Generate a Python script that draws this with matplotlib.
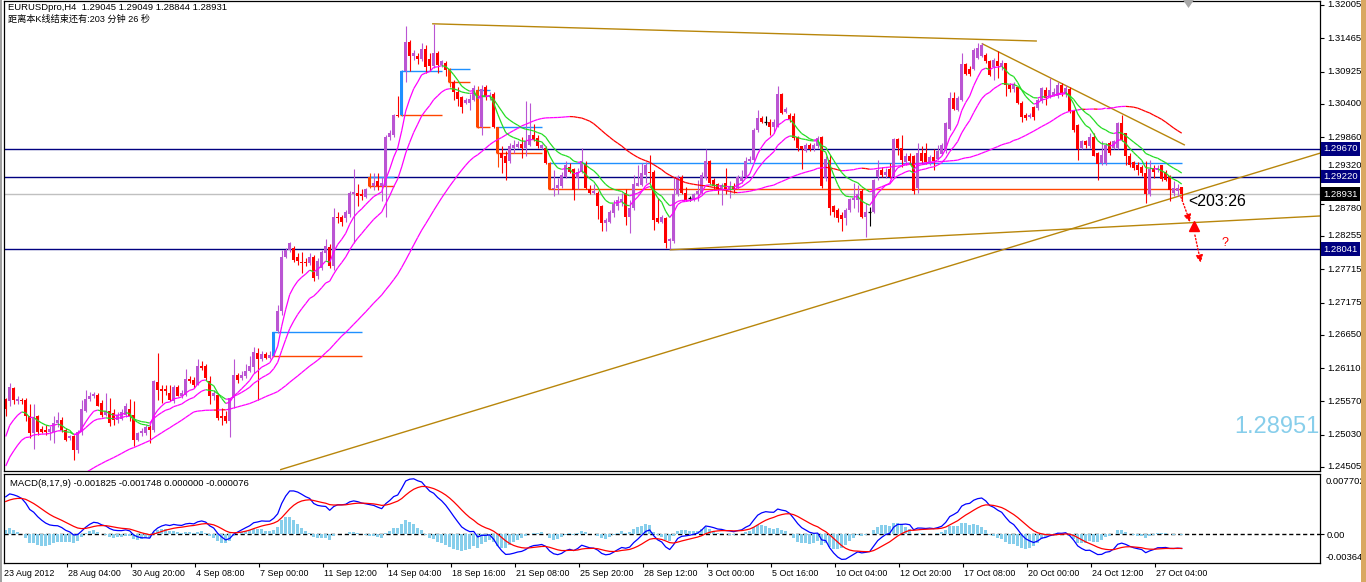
import numpy as np
import matplotlib
matplotlib.use("Agg")
import matplotlib.pyplot as plt
import matplotlib.transforms as mtrans
from matplotlib.collections import LineCollection
from matplotlib.patches import Rectangle, Polygon

plt.rcParams['font.family'] = ['Liberation Sans', 'Noto Sans CJK SC', 'DejaVu Sans']

# ---------------- data (EURUSDpro H4) ----------------
open_ = [
1.2561,1.2557,1.2579,1.2558,1.2560,1.2560,1.2534,1.2505,1.2533,1.2512,
1.2511,1.2508,1.2507,1.2522,1.2526,1.2511,1.2497,1.2500,1.2478,1.2507,
1.2541,1.2561,1.2565,1.2568,1.2554,1.2535,1.2541,1.2538,1.2527,1.2529,
1.2535,1.2544,1.2535,1.2495,1.2505,1.2506,1.2516,1.2510,1.2589,1.2577,
1.2577,1.2570,1.2557,1.2580,1.2566,1.2568,1.2593,1.2591,1.2584,1.2615,
1.2614,1.2590,1.2565,1.2568,1.2534,1.2533,1.2525,1.2562,1.2600,1.2595,
1.2598,1.2606,1.2613,1.2636,1.2626,1.2634,1.2627,1.2631,1.2671,1.2703,
1.2792,1.2803,1.2806,1.2792,1.2783,1.2784,1.2782,1.2792,1.2761,1.2774,
1.2798,1.2808,1.2776,1.2857,1.2856,1.2855,1.2862,1.2894,1.2896,1.2894,
1.2889,1.2922,1.2907,1.2915,1.2906,1.2906,1.2986,1.2990,1.3022,1.3022,
1.3094,1.3140,1.3117,1.3118,1.3113,1.3129,1.3113,1.3102,1.3123,1.3103,
1.3107,1.3097,1.3076,1.3060,1.3051,1.3042,1.3042,1.3047,1.3063,1.3003,
1.3067,1.3051,1.3056,1.3002,1.2961,1.2955,1.2947,1.2968,1.2970,1.2975,
1.2968,1.2974,1.2990,1.2985,1.2968,1.2968,1.2944,1.2901,1.2903,1.2906,
1.2922,1.2938,1.2934,1.2920,1.2930,1.2943,1.2902,1.2895,1.2896,1.2874,
1.2847,1.2849,1.2863,1.2874,1.2880,1.2896,1.2856,1.2871,1.2907,1.2909,
1.2925,1.2930,1.2930,1.2855,1.2849,1.2855,1.2817,1.2817,1.2893,1.2921,
1.2896,1.2887,1.2884,1.2893,1.2895,1.2920,1.2948,1.2917,1.2910,1.2901,
1.2911,1.2901,1.2907,1.2903,1.2914,1.2921,1.2947,1.2949,1.2998,1.3017,
1.3011,1.3011,1.3003,1.3003,1.3056,1.3026,1.3022,1.3021,1.2986,1.2971,
1.2964,1.2974,1.2966,1.2972,1.2986,1.2920,1.2949,1.2874,1.2868,1.2859,
1.2855,1.2867,1.2884,1.2884,1.2898,1.2856,1.2865,1.2864,1.2921,1.2932,
1.2925,1.2934,1.2922,1.2983,1.2968,1.2946,1.2956,1.2956,1.2903,1.2960,
1.2961,1.2945,1.2954,1.2950,1.2959,1.2963,1.2999,1.3049,1.3030,1.3047,
1.3104,1.3097,1.3097,1.3114,1.3117,1.3120,1.3110,1.3100,1.3109,1.3102,
1.3106,1.3071,1.3064,1.3067,1.3041,1.3022,1.3019,1.3035,1.3033,1.3044,
1.3063,1.3052,1.3055,1.3052,1.3071,1.3056,1.3064,1.3028,1.3006,1.2968,
1.2979,1.2971,1.2987,1.2960,1.2944,1.2944,1.2976,1.2968,1.2968,1.3009,
1.2992,1.2956,1.2945,1.2941,1.2938,1.2928,1.2893,1.2936,1.2933,1.2940,
1.2930,1.2923,1.2895,1.2898,1.29045]

high_ = [
1.2562,1.2587,1.2580,1.2565,1.2563,1.2563,1.2552,1.2552,1.2535,1.2517,
1.2519,1.2517,1.2533,1.2539,1.2531,1.2514,1.2503,1.2503,1.2511,1.2560,
1.2576,1.2573,1.2573,1.2570,1.2560,1.2571,1.2563,1.2544,1.2539,1.2544,
1.2554,1.2561,1.2557,1.2508,1.2514,1.2519,1.2519,1.2592,1.2636,1.2584,
1.2584,1.2584,1.2584,1.2584,1.2576,1.2610,1.2599,1.2596,1.2625,1.2622,
1.2617,1.2598,1.2576,1.2571,1.2546,1.2541,1.2563,1.2625,1.2603,1.2606,
1.2617,1.2630,1.2646,1.2644,1.2638,1.2637,1.2638,1.2670,1.2714,1.2803,
1.2806,1.2816,1.2810,1.2798,1.2800,1.2790,1.2798,1.2795,1.2790,1.2803,
1.2820,1.2812,1.2871,1.2865,1.2860,1.2868,1.2898,1.2934,1.2910,1.2901,
1.2903,1.2928,1.2928,1.2928,1.2922,1.2990,1.2998,1.3024,1.3052,1.3095,
1.3167,1.3143,1.3128,1.3122,1.3138,1.3136,1.3122,1.3170,1.3125,1.3112,
1.3109,1.3098,1.3079,1.3068,1.3052,1.3050,1.3056,1.3071,1.3069,1.3071,
1.3071,1.3060,1.3060,1.3003,1.2971,1.2963,1.2976,1.2982,1.2979,1.2987,
1.3044,1.3041,1.3008,1.2990,1.2975,1.2971,1.2945,1.2933,1.2920,1.2930,
1.2947,1.2944,1.2936,1.2936,1.2968,1.2947,1.2909,1.2910,1.2898,1.2876,
1.2855,1.2868,1.2884,1.2890,1.2895,1.2901,1.2884,1.2925,1.2941,1.2944,
1.2945,1.2957,1.2933,1.2887,1.2860,1.2857,1.2822,1.2922,1.2925,1.2925,
1.2905,1.2891,1.2896,1.2917,1.2930,1.2966,1.2949,1.2920,1.2911,1.2911,
1.2936,1.2914,1.2911,1.2925,1.2933,1.2954,1.2955,1.3001,1.3030,1.3021,
1.3021,1.3015,1.3015,1.3069,1.3058,1.3035,1.3025,1.3025,1.2988,1.2972,
1.2976,1.2976,1.2976,1.2988,1.2988,1.2956,1.2957,1.2876,1.2871,1.2865,
1.2871,1.2887,1.2911,1.2909,1.2901,1.2879,1.2873,1.2918,1.2949,1.2938,
1.2936,1.2944,1.2985,1.2985,1.2990,1.2960,1.2960,1.2957,1.2976,1.2971,
1.2976,1.2957,1.2966,1.2974,1.2977,1.3011,1.3060,1.3060,1.3052,1.3122,
1.3106,1.3101,1.3131,1.3139,1.3139,1.3122,1.3112,1.3114,1.3125,1.3112,
1.3107,1.3074,1.3076,1.3068,1.3044,1.3025,1.3025,1.3036,1.3049,1.3067,
1.3067,1.3082,1.3066,1.3076,1.3074,1.3070,1.3067,1.3030,1.3008,1.2982,
1.2982,1.2993,1.2993,1.2962,1.2979,1.2976,1.2979,1.2982,1.3011,1.3022,
1.2993,1.2960,1.2947,1.2945,1.2941,1.2948,1.2949,1.2941,1.2941,1.2941,
1.2933,1.2925,1.2914,1.2910,1.29049]

low_ = [
1.2534,1.2549,1.2553,1.2552,1.2553,1.2525,1.2497,1.2480,1.2503,1.2505,
1.2503,1.2495,1.2490,1.2516,1.2508,1.2492,1.2495,1.2462,1.2474,1.2503,
1.2539,1.2557,1.2563,1.2549,1.2531,1.2533,1.2517,1.2519,1.2522,1.2527,
1.2531,1.2525,1.2484,1.2492,1.2500,1.2503,1.2490,1.2508,1.2560,1.2554,
1.2568,1.2557,1.2555,1.2565,1.2563,1.2565,1.2587,1.2579,1.2583,1.2608,
1.2592,1.2552,1.2560,1.2527,1.2519,1.2522,1.2499,1.2546,1.2587,1.2592,
1.2595,1.2604,1.2603,1.2560,1.2622,1.2625,1.2625,1.2630,1.2668,1.2698,
1.2790,1.2800,1.2784,1.2779,1.2765,1.2776,1.2779,1.2753,1.2755,1.2771,
1.2787,1.2774,1.2771,1.2847,1.2841,1.2849,1.2857,1.2814,1.2874,1.2884,
1.2887,1.2904,1.2900,1.2900,1.2882,1.2857,1.2982,1.2987,1.3019,1.3021,
1.3076,1.3093,1.3112,1.3104,1.3110,1.3090,1.3093,1.3098,1.3090,1.3100,
1.3085,1.3068,1.3047,1.3036,1.3025,1.3039,1.3030,1.3044,1.3001,1.2990,
1.3047,1.3047,1.3001,1.2938,1.2928,1.2917,1.2944,1.2960,1.2968,1.2952,
1.2955,1.2971,1.2979,1.2968,1.2966,1.2943,1.2901,1.2890,1.2893,1.2903,
1.2920,1.2928,1.2884,1.2901,1.2928,1.2901,1.2894,1.2893,1.2853,1.2833,
1.2833,1.2847,1.2857,1.2868,1.2874,1.2844,1.2830,1.2868,1.2906,1.2906,
1.2911,1.2911,1.2836,1.2847,1.2847,1.2806,1.2804,1.2814,1.2890,1.2893,
1.2882,1.2883,1.2883,1.2882,1.2893,1.2917,1.2910,1.2902,1.2893,1.2876,
1.2893,1.2887,1.2895,1.2901,1.2911,1.2920,1.2944,1.2947,1.2995,1.3009,
1.3006,1.2990,1.2993,1.3002,1.3024,1.3025,1.3011,1.2981,1.2964,1.2934,
1.2962,1.2964,1.2963,1.2968,1.2903,1.2914,1.2860,1.2857,1.2849,1.2833,
1.2844,1.2865,1.2871,1.2865,1.2855,1.2824,1.2841,1.2863,1.2917,1.2922,
1.2920,1.2920,1.2920,1.2957,1.2938,1.2941,1.2944,1.2893,1.2895,1.2944,
1.2943,1.2941,1.2933,1.2949,1.2957,1.2961,1.2998,1.3030,1.3029,1.3044,
1.3087,1.3085,1.3095,1.3113,1.3116,1.3106,1.3085,1.3079,1.3082,1.3095,
1.3052,1.3060,1.3060,1.3040,1.3010,1.3013,1.3017,1.3014,1.3030,1.3041,
1.3038,1.3049,1.3052,1.3049,1.3052,1.3051,1.3025,1.2995,1.2949,1.2966,
1.2968,1.2968,1.2955,1.2917,1.2941,1.2941,1.2957,1.2966,1.2967,1.2979,
1.2941,1.2938,1.2933,1.2925,1.2923,1.2879,1.2890,1.2920,1.2930,1.2914,
1.2914,1.2883,1.2890,1.2891,1.28844]

close_ = [
1.2544,1.2581,1.2559,1.2561,1.2558,1.2533,1.2505,1.2531,1.2508,1.2508,
1.2507,1.2512,1.2522,1.2527,1.2511,1.2495,1.2500,1.2478,1.2507,1.2544,
1.2561,1.2566,1.2569,1.2550,1.2535,1.2541,1.2522,1.2526,1.2535,1.2539,
1.2549,1.2533,1.2494,1.2506,1.2509,1.2516,1.2510,1.2590,1.2576,1.2574,
1.2574,1.2559,1.2580,1.2566,1.2571,1.2593,1.2590,1.2583,1.2614,1.2611,
1.2595,1.2565,1.2571,1.2530,1.2530,1.2525,1.2563,1.2600,1.2591,1.2600,
1.2607,1.2615,1.2637,1.2625,1.2634,1.2627,1.2633,1.2669,1.2703,1.2792,
1.2803,1.2814,1.2786,1.2785,1.2781,1.2782,1.2792,1.2758,1.2785,1.2800,
1.2810,1.2776,1.2857,1.2855,1.2849,1.2864,1.2896,1.2897,1.2890,1.2890,
1.2901,1.2906,1.2912,1.2906,1.2911,1.2987,1.2993,1.3022,1.3020,1.3094,
1.3140,1.3117,1.3123,1.3113,1.3129,1.3100,1.3101,1.3123,1.3103,1.3109,
1.3095,1.3076,1.3060,1.3048,1.3035,1.3047,1.3048,1.3066,1.3002,1.3064,
1.3051,1.3055,1.3002,1.2961,1.2952,1.2944,1.2971,1.2974,1.2975,1.2968,
1.2979,1.2990,1.2982,1.2972,1.2974,1.2944,1.2902,1.2903,1.2909,1.2925,
1.2941,1.2930,1.2900,1.2930,1.2947,1.2903,1.2895,1.2898,1.2874,1.2847,
1.2852,1.2864,1.2878,1.2884,1.2886,1.2856,1.2871,1.2910,1.2911,1.2928,
1.2941,1.2927,1.2852,1.2849,1.2856,1.2814,1.2820,1.2893,1.2921,1.2896,
1.2884,1.2887,1.2893,1.2898,1.2925,1.2948,1.2911,1.2907,1.2901,1.2909,
1.2901,1.2906,1.2901,1.2921,1.2922,1.2947,1.2950,1.2998,1.3017,1.3010,
1.3011,1.3003,1.3011,1.3056,1.3025,1.3032,1.3015,1.2985,1.2968,1.2966,
1.2974,1.2967,1.2974,1.2985,1.2906,1.2950,1.2871,1.2865,1.2855,1.2853,
1.2868,1.2886,1.2887,1.2893,1.2856,1.2865,1.2865,1.2916,1.2932,1.2925,
1.2930,1.2922,1.2983,1.2968,1.2949,1.2956,1.2948,1.2898,1.2960,1.2947,
1.2945,1.2954,1.2947,1.2964,1.2974,1.3009,1.3049,1.3032,1.3049,1.3104,
1.3089,1.3089,1.3128,1.3131,1.3136,1.3109,1.3087,1.3112,1.3101,1.3106,
1.3071,1.3064,1.3073,1.3041,1.3019,1.3017,1.3022,1.3019,1.3047,1.3066,
1.3050,1.3063,1.3060,1.3071,1.3057,1.3065,1.3028,1.2998,1.2967,1.2979,
1.2974,1.2987,1.2956,1.2943,1.2957,1.2974,1.2960,1.2979,1.3009,1.2982,
1.2956,1.2941,1.2936,1.2933,1.2927,1.2893,1.2934,1.2930,1.2936,1.2918,
1.2917,1.2900,1.2903,1.2904,1.28931]

# bars drawn as highlighted (blue = bullish, orange = bearish) with level lines
highlight_bars = [67, 91, 99, 111, 118, 123, 136]

# moving-average / MACD settings and their values at the first visible bar
fast_period, mid_period, slow_period, signal_period = 8, 17, 48, 9
fast_ma_first = 1.2500
mid_ma_first = 1.2452
slow_history_level = 1.2375
signal_first = 0.0042

# horizontal levels
level_lines = [1.29670, 1.29220, 1.28041]
bid_price = 1.28931
price_ticks = [1.32005, 1.31465, 1.30925, 1.30400, 1.29860, 1.29320, 1.28780,
               1.28255, 1.27715, 1.27175, 1.26650, 1.26110, 1.25570, 1.25030, 1.24505]

# trend lines: (bar0, price0, bar1, price1)
trend_lines = [(106.6, 1.3170, 257.8, 1.3142),
               (244.0, 1.3138, 294.8, 1.2973),
               (68.6, 1.2446, 328.6, 1.2960),
               (166.0, 1.2803, 328.6, 1.2858)]

date_labels = ["28 Aug 04:00", "30 Aug 20:00", "4 Sep 08:00", "7 Sep 00:00",
               "11 Sep 12:00", "14 Sep 04:00", "18 Sep 16:00", "21 Sep 08:00",
               "25 Sep 20:00", "28 Sep 12:00", "3 Oct 00:00", "5 Oct 16:00",
               "10 Oct 04:00", "12 Oct 20:00", "17 Oct 08:00", "20 Oct 00:00",
               "24 Oct 12:00", "27 Oct 04:00"]
first_label = "23 Aug 2012"
label_step_bars = 16
first_tick_bar = 15.3

# ---------------- computations ----------------
o = np.array(open_); h = np.array(high_); l = np.array(low_); c = np.array(close_)
n = len(c)
x = np.arange(n)


def ema(values, period, first):
    a = 2.0 / (period + 1)
    out = np.empty(len(values))
    out[0] = first
    for i in range(1, len(values)):
        out[i] = out[i - 1] + a * (values[i] - out[i - 1])
    return out


fast = ema(c, fast_period, fast_ma_first)
mid = ema(c, mid_period, mid_ma_first)
ext = np.concatenate([np.full(slow_period - 1, slow_history_level), c])
slow = np.convolve(ext, np.ones(slow_period) / slow_period, mode='valid')
macd = fast - mid
signal = ema(macd, signal_period, signal_first)
hist = macd - signal

# ---------------- figure ----------------
W, H = 1366, 582
fig = plt.figure(figsize=(W / 100, H / 100), dpi=100)


def frame(left, top, w, hgt):
    return [left / W, 1 - (top + hgt) / H, w / W, hgt / H]


ax = fig.add_axes(frame(4, 1, 1316, 470))
axm = fig.add_axes(frame(4, 474, 1316, 89))
XL = (-0.425, 328.575)
ax.set_xlim(*XL)
ax.set_ylim(1.244398, 1.320698)
axm.set_xlim(*XL)
axm.set_ylim(-0.00364, 0.007702)

for a in (ax, axm):
    for s in a.spines.values():
        s.set_color('black')
        s.set_linewidth(0.9)

# level lines
for lv in level_lines:
    ax.axhline(lv, color='#000080', lw=1.0, zorder=1)
ax.axhline(bid_price, color='#C0C0C0', lw=1.0, zorder=1)

# trend lines
for b0, p0, b1, p1 in trend_lines:
    ax.plot([b0, b1], [p0, p1], color='#B8860B', lw=1.0, zorder=1.2, solid_capstyle='butt')

# candle colours
cols = np.where(c > o, '#BA55D3', np.where(c < o, '#FF0000', '#000000')).astype(object)
for b in highlight_bars:
    cols[b] = '#1E90FF' if c[b] > o[b] else '#FF4500'

# highlight level lines
for k, b in enumerate(highlight_bars):
    end = highlight_bars[k + 1] - 2 if k + 1 < len(highlight_bars) else n - 1
    top, bot = max(o[b], c[b]), min(o[b], c[b])
    ax.hlines(top, b - 0.5, end, colors='#1E90FF', lw=1.0, zorder=1.6)
    ax.hlines(bot, b - 0.5, end, colors='#FF4500', lw=1.0, zorder=1.6)

ax.vlines(x, l, h, colors=list(cols), lw=0.8, zorder=2)
ax.bar(x, c - o, bottom=o, width=0.78, color=list(cols), linewidth=0, zorder=2.1)
doji = c == o
ax.hlines(o[doji], x[doji] - 0.45, x[doji] + 0.45, colors='black', lw=0.9, zorder=2.2)


def slope_lines(a, y, up_c, dn_c, lw=0.9, z=3):
    segs = np.stack([np.column_stack([x[:-1], y[:-1]]), np.column_stack([x[1:], y[1:]])], axis=1)
    colors = np.where(np.diff(y) >= 0, up_c, dn_c)
    a.add_collection(LineCollection(segs, colors=list(colors), linewidths=lw, zorder=z))


slope_lines(ax, slow, '#FF00FF', '#FF0000')
slope_lines(ax, mid, '#FF00FF', '#22DD22')
slope_lines(ax, fast, '#FF00FF', '#22DD22')

# right price axis (labels drawn as texts so the hidden one can sit above the box)
ax.set_xticks([])
ax.yaxis.tick_right()
ax.set_yticks(price_ticks)
ax.set_yticklabels([])
ax.tick_params(axis='y', direction='out', length=3, width=0.8)
btrans = mtrans.blended_transform_factory(ax.transAxes, ax.transData)
covered = {1.29320: 'bottom', 1.28780: 'top'}
for v in price_ticks:
    ax.text(1.0055, v, f"{v:.5f}", transform=btrans, ha='left',
            va=covered.get(v, 'center'), fontsize=6.8, clip_on=False, zorder=5)

for lv, fc in [(level_lines[0], '#000080'), (level_lines[1], '#000080'),
               (level_lines[2], '#000080'), (bid_price, '#000000')]:
    ax.text(1.0025, lv, f"{lv:.5f}", transform=btrans, ha='left', va='center',
            fontsize=6.8, color='white', zorder=10, clip_on=False,
            bbox=dict(boxstyle='square,pad=0.25', fc=fc, ec='none'))

# annotation arrows (red, dotted)
ax.annotate('', xy=(296.1, 1.2848), xytext=(293.8, 1.2889),
            arrowprops=dict(arrowstyle='-|>', color='red', lw=1.0, linestyle=(0, (1, 1.5)),
                            mutation_scale=11, shrinkA=0, shrinkB=0), zorder=6)
ax.plot([297.1], [1.2841], marker='^', color='red', ms=7, zorder=6)
ax.annotate('', xy=(298.8, 1.2782), xytext=(297.3, 1.2827),
            arrowprops=dict(arrowstyle='-|>', color='red', lw=1.0, linestyle=(0, (1, 1.5)),
                            mutation_scale=11, shrinkA=0, shrinkB=0), zorder=6)
ax.text(304.8, 1.2814, '?', color='red', fontsize=9, ha='center', va='center', zorder=6)

# MACD panel
axm.bar(x, hist, width=0.75, color='#87CEEB', linewidth=0, zorder=2)
axm.axhline(0, color='black', lw=1.0, ls=(0, (3, 2)), zorder=1)
axm.plot(x, macd, color='#0000FF', lw=0.9, zorder=3)
axm.plot(x, signal, color='#FF0000', lw=0.9, zorder=3)
axm.yaxis.tick_right()
axm.set_yticks([0.0])
axm.set_yticklabels(['0.00'])
axm.tick_params(axis='y', direction='out', length=3, width=0.8, labelsize=6.8, pad=1.5)
mtr = axm.transAxes
axm.text(1.004, 0.92, '0.007702', transform=mtr, ha='left', va='center', fontsize=6.8, clip_on=False)
axm.text(1.004, 0.06, '-0.00364', transform=mtr, ha='left', va='center', fontsize=6.8, clip_on=False)

tick_pos = [first_tick_bar + label_step_bars * k for k in range(len(date_labels))]
axm.set_xticks(tick_pos)
axm.set_xticklabels([])
axm.tick_params(axis='x', direction='out', length=3, width=0.8)
dtrans = mtrans.blended_transform_factory(axm.transData, axm.transAxes)
axm.text(-0.5, -0.12, first_label, transform=dtrans, ha='left', va='center', fontsize=6.4, clip_on=False)
for pos, lab in zip(tick_pos, date_labels):
    axm.text(pos + 0.3, -0.12, lab, transform=dtrans, ha='left', va='center', fontsize=6.4, clip_on=False)

# header texts
fig.text(8 / W, 1 - 7.5 / H, "EURUSDpro,H4  1.29045 1.29049 1.28844 1.28931",
         fontsize=6.8, va='center', ha='left')
fig.text(8 / W, 1 - 19 / H, "距离本K线结束还有:203 分钟 26 秒",
         fontsize=6.6, va='center', ha='left', family=['Liberation Sans', 'Noto Sans CJK SC'])
fig.text(10 / W, 1 - 483 / H, "MACD(8,17,9) -0.001825 -0.001748 0.000000 -0.000076",
         fontsize=6.8, va='center', ha='left')
fig.text(1188 / W, 1 - 201 / H, "<203:26", fontsize=11.5, va='center', ha='left')
fig.text(1234 / W, 1 - 427 / H, "1.28951", fontsize=17, va='center', ha='left', color='#87CEEB')

# window decorations
fig.add_artist(Rectangle((1361 / W, 0), 5 / W, 1, transform=fig.transFigure,
                         facecolor='#D9A862', edgecolor='none'))
fig.add_artist(Rectangle((0, 0), 1.5 / W, 1, transform=fig.transFigure,
                         facecolor='#A0A0A0', edgecolor='none'))
fig.add_artist(Polygon([[1183 / W, 1], [1194 / W, 1], [1188.5 / W, 1 - 8 / H]],
                       closed=True, transform=fig.transFigure, facecolor='#A8A8A8', edgecolor='none'))

fig.savefig('out.png', dpi=100)
